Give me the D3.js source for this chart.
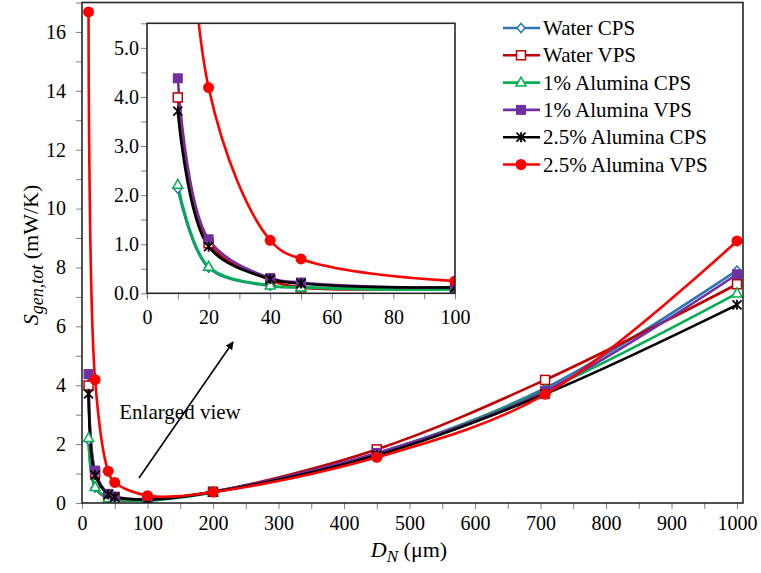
<!DOCTYPE html>
<html>
<head>
<meta charset="utf-8">
<script src="https://cdn.jsdelivr.net/npm/d3@7"></script>
<style>
  body { margin: 0; background: #fff; }
  svg text { font-family: "Liberation Serif", "Times New Roman", Times, "DejaVu Serif", serif; fill: #000; }
</style>
</head>
<body>
<svg id="chart" width="761" height="573"></svg>
<script>

// pipe diameters (um)
let diameters = [10, 20, 40, 50, 100, 200, 450, 707, 1000];

let seriesNames = ["Water CPS", "Water VPS", "1% Alumina CPS", "1% Alumina VPS", "2.5% Alumina CPS", "2.5% Alumina VPS"];

let waterCPS    = [2.13, 0.52, 0.15, 0.12, 0.10, 0.38, 1.68, 3.90, 7.90];
let waterVPS    = [3.99, 1.02, 0.27, 0.12, 0.11, 0.38, 1.82, 4.18, 7.43];
let alu1CPS     = [2.21, 0.54, 0.16, 0.12, 0.08, 0.36, 1.65, 3.82, 7.12];
let alu1VPS     = [4.38, 1.10, 0.31, 0.22, 0.12, 0.38, 1.70, 3.80, 7.77];
let alu25CPS    = [3.71, 0.95, 0.29, 0.20, 0.12, 0.37, 1.62, 3.70, 6.73];
let alu25VPS    = [16.68, 4.19, 1.08, 0.70, 0.25, 0.37, 1.55, 3.69, 8.90];

let mainXTicks = d3.range(0, 1001, 100);
let mainYTicks = d3.range(0, 17, 2);
let insetXTicks = d3.range(0, 101, 20);
let insetYTicks = d3.range(0, 5.1, 1);

let colors = ["#2E75B6", "#C00000", "#00B050", "#7030A0", "#000000", "#FF0000"];
let shapes = ["diamond", "openSquare", "triangle", "square", "star", "circle"];

let allValues = [waterCPS, waterVPS, alu1CPS, alu1VPS, alu25CPS, alu25VPS];
let series = seriesNames.map((name, i) => ({
    name: name,
    color: colors[i],
    shape: shapes[i],
    points: diameters.map((d, j) => ({x: d, y: allValues[i][j]}))
}));

let serif = '"Liberation Serif", "Times New Roman", Times, "DejaVu Serif", serif';

let svg = d3.select("#chart");
svg.append("rect").attr("width", 761).attr("height", 573).style("fill", "white");

function drawMarker(g, shape, color, x, y) {
    if (shape === "diamond") {
        g.append("path").attr("d", `M${x},${y - 4.5}L${x + 4},${y}L${x},${y + 4.5}L${x - 4},${y}Z`)
            .style("fill", "white").style("stroke", color).style("stroke-width", 1.5);
    } else if (shape === "openSquare") {
        g.append("rect").attr("x", x - 4.5).attr("y", y - 4.5).attr("width", 9).attr("height", 9)
            .style("fill", "white").style("stroke", color).style("stroke-width", 1.5);
    } else if (shape === "triangle") {
        g.append("path").attr("d", `M${x},${y - 5.5}L${x + 5},${y + 3.5}L${x - 5},${y + 3.5}Z`)
            .style("fill", "white").style("stroke", color).style("stroke-width", 1.5);
    } else if (shape === "square") {
        g.append("rect").attr("x", x - 5).attr("y", y - 5).attr("width", 10).attr("height", 10)
            .style("fill", color);
    } else if (shape === "star") {
        g.append("path").attr("d", `M${x - 4.5},${y - 4.5}L${x + 4.5},${y + 4.5}M${x + 4.5},${y - 4.5}L${x - 4.5},${y + 4.5}M${x},${y - 5}L${x},${y + 5}`)
            .style("stroke", color).style("stroke-width", 1.8).style("fill", "none");
    } else {
        g.append("circle").attr("cx", x).attr("cy", y).attr("r", 5.5).style("fill", color);
    }
}

// draws one framed plot: axes, ticks, curves, markers
function drawPanel(opt) {
    let xScale = d3.scaleLinear().domain(opt.xDomain).range([opt.left, opt.xEnd]);
    let yScale = d3.scaleLinear().domain(opt.yDomain).range([opt.bottom, opt.top]);

    svg.append("clipPath").attr("id", opt.id + "-clip")
        .append("rect").attr("x", opt.left).attr("y", opt.top)
        .attr("width", opt.right - opt.left).attr("height", opt.bottom - opt.top);

    if (opt.fillBg) {
        svg.append("rect").attr("x", opt.left).attr("y", opt.top)
            .attr("width", opt.right - opt.left).attr("height", opt.bottom - opt.top)
            .style("fill", "white");
    }

    // minor ticks
    let xAxisMinor = svg.append("g").attr("transform", `translate(0,${opt.bottom})`)
        .call(d3.axisBottom(xScale).tickValues(opt.xMinor).tickSize(6).tickFormat(""));
    let yAxisMinor = svg.append("g").attr("transform", `translate(${opt.left},0)`)
        .call(d3.axisLeft(yScale).tickValues(opt.yMinor).tickSize(6).tickFormat(""));
    [xAxisMinor, yAxisMinor].forEach(a => {
        a.select(".domain").remove();
        a.selectAll("line").style("stroke", "#7f7f7f").style("stroke-width", 1);
    });

    // labels
    let xAxis = svg.append("g").attr("transform", `translate(0,${opt.bottom})`)
        .call(d3.axisBottom(xScale).tickValues(opt.xTicks).tickSize(0).tickPadding(opt.xPad).tickFormat(opt.xFmt));
    let yAxis = svg.append("g").attr("transform", `translate(${opt.left},0)`)
        .call(d3.axisLeft(yScale).tickValues(opt.yTicks).tickSize(0).tickPadding(opt.yPad).tickFormat(opt.yFmt));
    [xAxis, yAxis].forEach(a => {
        a.attr("font-family", null).attr("font-size", null);
        a.select(".domain").remove();
        a.selectAll("text").style("font-family", serif).style("font-size", "20px").style("fill", "#000");
    });

    let plot = svg.append("g").attr("clip-path", `url(#${opt.id}-clip)`);
    let line = d3.line().x(d => xScale(d.x)).y(d => yScale(d.y)).curve(d3.curveCatmullRom.alpha(0.5));

    series.forEach(s => {
        plot.append("path").datum(s.points).attr("d", line)
            .style("fill", "none").style("stroke", s.color).style("stroke-width", 2.6);
    });
    series.forEach(s => {
        s.points.filter(p => p.x <= opt.xDomain[1]).forEach(p => {
            drawMarker(plot, s.shape, s.color, xScale(p.x), yScale(p.y));
        });
    });

    svg.append("rect").attr("x", opt.left).attr("y", opt.top)
        .attr("width", opt.right - opt.left).attr("height", opt.bottom - opt.top)
        .style("fill", "none").style("stroke", "#262626").style("stroke-width", 1.6);
}

// main chart
drawPanel({
    id: "main", left: 82, right: 743, xEnd: 737, top: 2.5, bottom: 503,
    xDomain: [0, 1000], yDomain: [0, 17],
    xTicks: mainXTicks, yTicks: mainYTicks,
    xMinor: d3.range(0, 1001, 50), yMinor: d3.range(0, 18, 1),
    xPad: 13, yPad: 16,
    xFmt: d3.format("d"), yFmt: d3.format("d")
});

// enlarged view inset
drawPanel({
    id: "inset", left: 147, right: 455, xEnd: 455, top: 23.3, bottom: 293.3, fillBg: true,
    xDomain: [0, 100], yDomain: [0, 5.5],
    xTicks: insetXTicks, yTicks: insetYTicks,
    xMinor: d3.range(0, 101, 10), yMinor: d3.range(0, 5.6, 0.5),
    xPad: 17, yPad: 8,
    xFmt: d3.format("d"), yFmt: d3.format(".1f")
});

// axis titles
let yTitle = svg.append("text").attr("transform", "translate(38,255) rotate(-90)")
    .attr("text-anchor", "middle").style("font-family", serif).style("font-size", "22px");
yTitle.append("tspan").style("font-style", "italic").text("S");
yTitle.append("tspan").style("font-style", "italic").style("font-size", "18px").attr("dy", 5).text("gen,tot");
yTitle.append("tspan").attr("dy", -5).text(" (mW/K)");

let xTitle = svg.append("text").attr("x", 409).attr("y", 557)
    .attr("text-anchor", "middle").style("font-family", serif).style("font-size", "22px");
xTitle.append("tspan").style("font-style", "italic").text("D");
xTitle.append("tspan").style("font-style", "italic").style("font-size", "17px").attr("dy", 5).text("N");
xTitle.append("tspan").attr("dy", -5).text(" (\u03bcm)");

// legend
let legend = svg.append("g");
series.forEach((s, i) => {
    let y = 28 + i * 27.3;
    legend.append("line").attr("x1", 503).attr("x2", 540).attr("y1", y).attr("y2", y)
        .style("stroke", s.color).style("stroke-width", 2.6);
    drawMarker(legend, s.shape, s.color, 521, y);
    legend.append("text").attr("x", 543).attr("y", y + 7)
        .style("font-family", serif).style("font-size", "21px").text(s.name);
});

// annotation arrow
svg.append("defs").append("marker").attr("id", "arrow")
    .attr("viewBox", "0 0 10 10").attr("refX", 9).attr("refY", 5)
    .attr("markerWidth", 5).attr("markerHeight", 5).attr("orient", "auto")
    .append("path").attr("d", "M0,0L10,5L0,10Z").style("fill", "#000");
svg.append("line").attr("x1", 139).attr("y1", 478).attr("x2", 233).attr("y2", 342)
    .style("stroke", "#000").style("stroke-width", 1.6).attr("marker-end", "url(#arrow)");
svg.append("text").attr("x", 180).attr("y", 419).attr("text-anchor", "middle")
    .style("font-family", serif).style("font-size", "21px").text("Enlarged view");

</script>
</body>
</html>
